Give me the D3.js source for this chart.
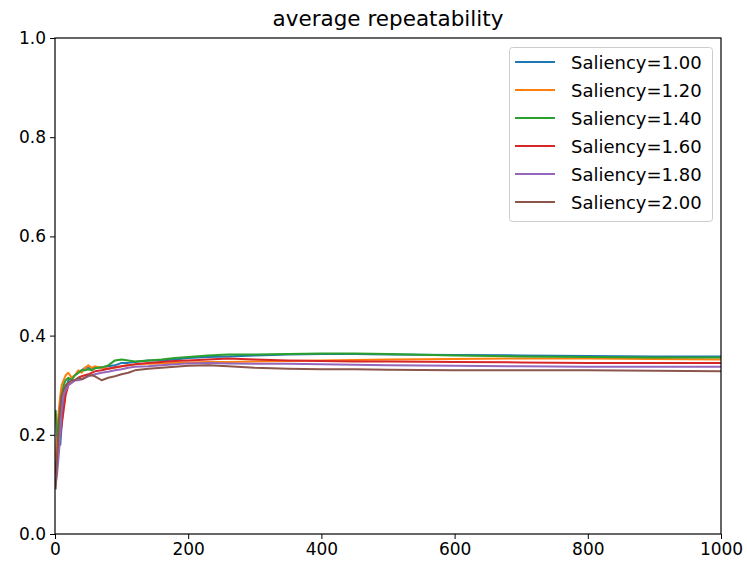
<!DOCTYPE html>
<html><head><meta charset="utf-8">
<script src="https://cdn.jsdelivr.net/npm/d3@7"></script>
<style>body{margin:0;background:#fff}svg{font-family:"DejaVu Sans",sans-serif}</style>
</head><body><svg id="c" width="747" height="566"></svg>
<script>
const xs = [1,3,5,8,10,13,16,20,25,30,35,40,45,50,55,60,70,80,90,100,110,120,140,160,180,200,230,260,300,350,400,450,500,600,700,800,900,1000];
const s100 = [0.13,0.17,0.19,0.18,0.22,0.27,0.29,0.31,0.315,0.32,0.325,0.33,0.335,0.335,0.333,0.337,0.335,0.338,0.34,0.345,0.345,0.347,0.35,0.35,0.352,0.355,0.357,0.358,0.36,0.362,0.363,0.363,0.362,0.361,0.36,0.359,0.358,0.358];
const s120 = [0.15,0.2,0.24,0.28,0.3,0.31,0.32,0.325,0.315,0.32,0.33,0.325,0.335,0.34,0.335,0.338,0.335,0.333,0.335,0.338,0.34,0.342,0.343,0.344,0.345,0.346,0.347,0.347,0.348,0.349,0.35,0.351,0.352,0.353,0.354,0.354,0.353,0.352];
const s140 = [0.25,0.2,0.18,0.24,0.28,0.3,0.31,0.315,0.31,0.32,0.325,0.33,0.33,0.332,0.33,0.334,0.336,0.34,0.35,0.352,0.35,0.348,0.35,0.352,0.355,0.357,0.36,0.362,0.362,0.363,0.364,0.364,0.363,0.36,0.358,0.357,0.356,0.356];
const s160 = [0.12,0.15,0.18,0.2,0.22,0.25,0.28,0.3,0.305,0.31,0.315,0.318,0.32,0.322,0.325,0.328,0.33,0.333,0.336,0.338,0.34,0.342,0.345,0.347,0.349,0.35,0.352,0.354,0.352,0.35,0.349,0.348,0.348,0.347,0.346,0.345,0.345,0.345];
const s180 = [0.1,0.12,0.15,0.2,0.25,0.28,0.29,0.3,0.305,0.31,0.31,0.312,0.315,0.318,0.32,0.322,0.325,0.327,0.33,0.332,0.335,0.337,0.338,0.34,0.342,0.344,0.345,0.344,0.343,0.343,0.342,0.341,0.34,0.339,0.338,0.337,0.337,0.337];
const s200 = [0.09,0.15,0.22,0.26,0.28,0.29,0.3,0.305,0.31,0.31,0.315,0.312,0.315,0.32,0.32,0.318,0.31,0.315,0.318,0.322,0.325,0.33,0.333,0.335,0.337,0.339,0.34,0.338,0.335,0.333,0.332,0.332,0.331,0.33,0.33,0.33,0.329,0.328];
const labels = ["Saliency=1.00","Saliency=1.20","Saliency=1.40","Saliency=1.60","Saliency=1.80","Saliency=2.00"];
const colors = ["#1f77b4","#ff7f0e","#2ca02c","#d62728","#9467bd","#8c564b"];
const xTicks = [0,200,400,600,800,1000];
const yTicks = [0,0.2,0.4,0.6,0.8,1.0];
const series = [s100,s120,s140,s160,s180,s200];

const L=55,R=721,T=38,B=534;
const svg=d3.select("#c");
const x=d3.scaleLinear().domain([0,1000]).range([L,R]);
const y=d3.scaleLinear().domain([0,1]).range([B,T]);
const g=svg.append("g");
svg.append("clipPath").attr("id","cp").append("rect").attr("x",L).attr("y",T).attr("width",R-L).attr("height",B-T);
const line=d3.line().x((d,i)=>x(xs[i])).y(d=>y(d));
series.forEach((s,i)=>{
  g.append("path").attr("d",line(s)).attr("fill","none").attr("stroke",colors[i]).attr("stroke-width",2).attr("stroke-linejoin","round").attr("clip-path","url(#cp)");
});
const xa=svg.append("g").attr("transform",`translate(0,${B})`).call(d3.axisBottom(x).tickValues(xTicks).tickFormat(d3.format("d")).tickSize(5).tickPadding(4));
const ya=svg.append("g").attr("transform",`translate(${L},0)`).call(d3.axisLeft(y).tickValues(yTicks).tickFormat(d3.format(".1f")).tickSize(5).tickPadding(4));
[xa,ya].forEach(a=>{a.select(".domain").remove();a.selectAll("text").attr("font-size",17).attr("fill","#000").attr("font-family","DejaVu Sans");a.selectAll("line").attr("stroke","#000");});
svg.append("rect").attr("x",L).attr("y",T).attr("width",R-L).attr("height",B-T).attr("fill","none").attr("stroke","#000").attr("stroke-width",1.2);
svg.append("text").attr("x",(L+R)/2).attr("y",26).attr("text-anchor","middle").attr("font-size",21.5).text("average repeatability");
const lg=svg.append("g");
lg.append("rect").attr("x",509.5).attr("y",47.5).attr("width",203).attr("height",174).attr("rx",3).attr("fill","#fff").attr("fill-opacity",0.8).attr("stroke","#ccc");
labels.forEach((t,i)=>{
  const yy=62+i*28;
  lg.append("line").attr("x1",515).attr("x2",555).attr("y1",yy).attr("y2",yy).attr("stroke",colors[i]).attr("stroke-width",2);
  lg.append("text").attr("x",571).attr("y",yy+6.5).attr("font-size",18).text(t);
});
</script></body></html>
